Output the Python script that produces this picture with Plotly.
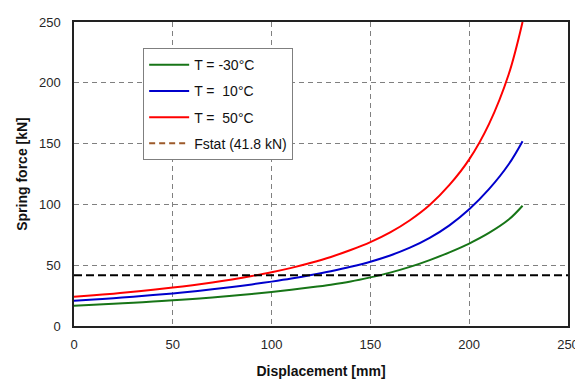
import plotly.graph_objects as go

# Data
displacement = [0, 10, 20, 30, 40, 50, 60, 70, 80, 90, 100, 110, 120, 130, 140, 150,
                160, 170, 180, 190, 200, 210, 220, 227]
force_m30 = [16.7, 17.5, 18.3, 19.2, 20.1, 21.1, 22.2, 23.5, 24.9, 26.4, 28.0, 29.8, 31.8, 34.0,
             36.6, 40.0, 43.9, 48.6, 54.2, 60.6, 67.8, 76.5, 87.5, 98.9]
force_10 = [20.8, 21.8, 22.9, 24.1, 25.4, 26.8, 28.4, 30.2, 32.1, 34.2, 36.5, 39.0, 41.9, 45.1,
            48.7, 52.9, 58.0, 64.4, 72.5, 82.8, 96.0, 112.5, 133.0, 152.0]
force_50 = [24.0, 25.3, 26.6, 28.1, 29.8, 31.6, 33.6, 35.8, 38.3, 41.1, 44.2, 47.8, 52.0, 56.8,
            62.5, 69.0, 77.0, 87.0, 99.5, 116.0, 137.0, 166.0, 207.0, 250.0]
fstat_value = 41.8
fstat_x = [0, 250]
names = ["T = -30°C", "T =\u00a0\u00a010°C", "T =\u00a0\u00a050°C", "Fstat (41.8 kN)"]
colors = ["#177517", "#0000CC", "#FF0000", "#9C5A2A"]
x_ticks = [0, 50, 100, 150, 200, 250]
y_ticks = [0, 50, 100, 150, 200, 250]

fig = go.Figure()
for i, ys in enumerate([force_m30, force_10, force_50]):
    fig.add_trace(go.Scatter(x=displacement, y=ys, mode="lines", name=names[i],
                             line=dict(color=colors[i], width=2, shape="spline", smoothing=1.0),
                             legendgroup=f"g{i}"))
# Fstat line (black dashed in plot)
fig.add_trace(go.Scatter(x=fstat_x, y=[fstat_value] * len(fstat_x), mode="lines",
                         line=dict(color="black", width=2, dash="8px,4px"),
                         showlegend=False, cliponaxis=False))
# legend entry for Fstat (brown dashed)
fig.add_trace(go.Scatter(x=[None], y=[None], mode="lines", name=names[3],
                         line=dict(color=colors[3], width=2, dash="6px,4px"),
                         legendgroup="g3"))

font_family = "Liberation Sans, Arial, sans-serif"
axis_common = dict(
    showline=True, linecolor="#222", linewidth=1.5, mirror=True,
    showgrid=True, gridcolor="#808080", gridwidth=1, griddash="5px,4px",
    zeroline=False, ticks="", automargin=False,
    tickfont=dict(family=font_family, size=13, color="#262626"),
)
fig.update_xaxes(range=[0, 250], tickvals=x_ticks, ticklabelstandoff=6, **axis_common,
                 title=dict(text="<b>Displacement [mm]</b>", font=dict(family=font_family, size=14, color="#111"),
                            standoff=15))
fig.update_yaxes(range=[0, 250], tickvals=y_ticks, ticklabelstandoff=9, **axis_common,
                 title=dict(text="<b>Spring force [kN]</b>", font=dict(family=font_family, size=14, color="#111"),
                            standoff=8))

# page body adds an 8px offset, so the figure is sized to fit the 583x380 window
fig.update_layout(
    width=575, height=372,
    margin=dict(l=66, r=15, t=14, b=54),
    plot_bgcolor="white", paper_bgcolor="white",
    font=dict(family=font_family, size=13, color="#222"),
    legend=dict(x=0.14, y=0.914, xanchor="left", yanchor="top",
                bgcolor="white", bordercolor="#7f7f7f", borderwidth=1,
                font=dict(family=font_family, size=14, color="#111"),
                itemwidth=40, tracegroupgap=5, traceorder="grouped"),
    showlegend=True,
)

fig.write_html("out.html")
